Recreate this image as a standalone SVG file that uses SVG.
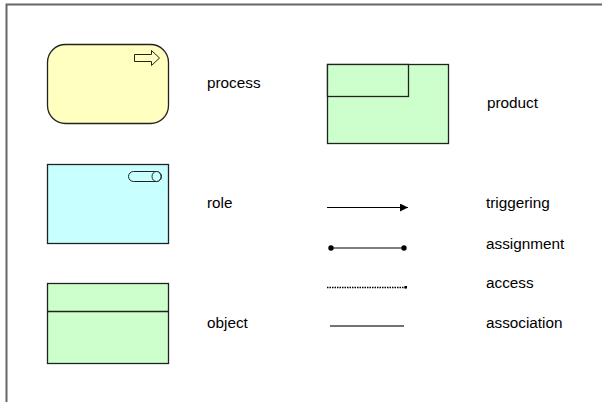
<svg xmlns="http://www.w3.org/2000/svg" width="602" height="402" viewBox="0 0 602 402">
<defs>
<style>
.lbl{font-family:"Liberation Sans",Arial,sans-serif;font-size:15.3px;fill:#000}
.shape{stroke:#222;stroke-width:1.3}
.ln{stroke:#000;stroke-width:1.2;fill:none}
</style>
<marker id="tri" viewBox="0 0 10 10" refX="10" refY="5" markerWidth="10" markerHeight="8" markerUnits="userSpaceOnUse" orient="auto">
<path d="M0,0 L10,5 L0,10 z" fill="#000"/>
</marker>
<marker id="dot" viewBox="0 0 6 6" refX="3" refY="3" markerWidth="6" markerHeight="6" markerUnits="userSpaceOnUse">
<circle cx="3" cy="3" r="2.7" fill="#000"/>
</marker>
</defs>
<rect width="602" height="402" fill="#fff"/>
<path d="M6.5,402 L6.5,4.5 L602,4.5" fill="none" stroke="#666" stroke-width="2"/>
<g id="process">
<rect class="shape" x="47.5" y="44.5" width="121" height="79" rx="18" fill="#FFFFC0"/>
<path d="M134.5,54.5 L151.5,54.5 L151.5,50.5 L159.5,58 L151.5,65.5 L151.5,61.5 L134.5,61.5 z" fill="#FFFFC0" stroke="#222" stroke-width="1"/>
<text class="lbl" x="207" y="88">process</text>
</g>
<g id="role">
<rect class="shape" x="47.5" y="164.5" width="121" height="79" fill="#C8FFFF"/>
<rect x="128.5" y="171.5" width="33" height="10" rx="5" fill="#C8FFFF" stroke="#222" stroke-width="1"/>
<ellipse cx="156.5" cy="176.5" rx="4.5" ry="5" fill="#C8FFFF" stroke="#222" stroke-width="1"/>
<text class="lbl" x="207" y="208">role</text>
</g>
<g id="object">
<rect class="shape" x="47.5" y="283.5" width="121" height="80" fill="#CCFFCC"/>
<line class="shape" x1="47.5" y1="311.5" x2="168.5" y2="311.5"/>
<text class="lbl" x="207" y="328">object</text>
</g>
<g id="product">
<rect class="shape" x="327.5" y="64.5" width="121" height="79" fill="#CCFFCC"/>
<rect class="shape" x="327.5" y="64.5" width="81" height="32" fill="#CCFFCC"/>
<text class="lbl" x="487" y="108">product</text>
</g>
<g id="connectors">
<line class="ln" x1="327" y1="207.5" x2="408" y2="207.5" marker-end="url(#tri)"/>
<line class="ln" x1="331" y1="248" x2="404" y2="248" stroke="#333" marker-start="url(#dot)" marker-end="url(#dot)"/>
<line x1="327" y1="287.5" x2="406" y2="287.5" stroke="#000" stroke-width="1.5" stroke-dasharray="1.5,1"/>
<rect x="404.5" y="286" width="2.5" height="2.5" fill="#000"/>
<line x1="330" y1="326" x2="404" y2="326" stroke="#444" stroke-width="1.5"/>
</g>
<g id="legend-labels">
<text class="lbl" x="486" y="208">triggering</text>
<text class="lbl" x="486" y="249">assignment</text>
<text class="lbl" x="486" y="288">access</text>
<text class="lbl" x="486" y="328">association</text>
</g>
</svg>
